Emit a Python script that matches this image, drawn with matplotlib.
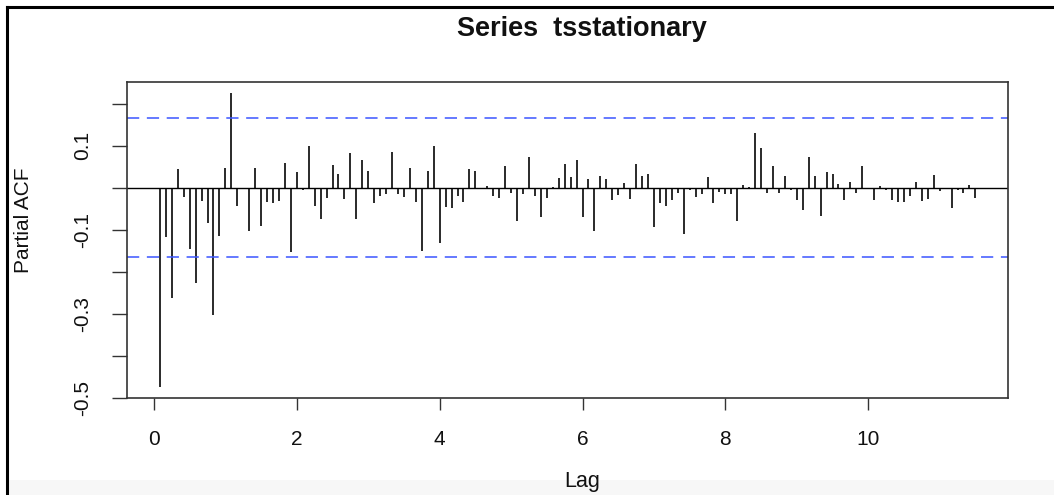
import numpy as np
import matplotlib
matplotlib.use("Agg")
import matplotlib.pyplot as plt
from matplotlib.lines import Line2D
from matplotlib.patches import Rectangle

# ---- data ----
freq = 12
pacf_values = [
    -0.472, -0.117, -0.263, 0.044, -0.021, -0.146, -0.227, -0.031, -0.083, -0.302,
    -0.115, 0.047, 0.224, -0.044, -0.002, -0.103, 0.048, -0.090, -0.035, -0.037,
    -0.031, 0.058, -0.152, 0.037, -0.006, 0.098, -0.043, -0.075, -0.024, 0.054,
    0.032, -0.027, 0.082, -0.075, 0.065, 0.040, -0.036, -0.019, -0.014, 0.084,
    -0.014, -0.022, 0.048, -0.035, -0.150, 0.040, 0.099, -0.131, -0.045, -0.048,
    -0.019, -0.033, 0.044, 0.040, -0.002, 0.005, -0.019, -0.024, 0.052, -0.013,
    -0.079, -0.016, 0.072, -0.019, -0.070, -0.024, 0.002, 0.022, 0.057, 0.025,
    0.066, -0.070, 0.021, -0.103, 0.027, 0.021, -0.028, -0.017, 0.011, -0.027,
    0.056, 0.029, 0.032, -0.094, -0.037, -0.044, -0.030, -0.013, -0.111, -0.006,
    -0.021, -0.016, 0.025, -0.037, -0.011, -0.016, -0.014, -0.079, 0.006, 0.001,
    0.131, 0.095, -0.013, 0.052, -0.012, 0.029, -0.006, -0.028, -0.052, 0.073,
    0.027, -0.067, 0.037, 0.033, 0.008, -0.028, 0.013, -0.013, 0.052, -0.003,
    -0.028, 0.004, -0.006, -0.028, -0.034, -0.034, -0.020, 0.013, -0.032, -0.026,
    0.031, -0.008, -0.002, -0.049, -0.006, -0.013, 0.006, -0.024,
]
lags = [(i + 1) / freq for i in range(len(pacf_values))]
ci_bound = 0.165
title_text = "Series  tsstationary"
xlabel_text = "Lag"
ylabel_text = "Partial ACF"
xticks = [0, 2, 4, 6, 8, 10]
yticks = [0.2, 0.1, 0.0, -0.1, -0.2, -0.3, -0.4, -0.5]
ytick_labels = ["", "0.1", "", "-0.1", "", "-0.3", "", "-0.5"]

FONT = ["Liberation Sans", "DejaVu Sans"]
plt.rcParams["font.family"] = FONT

W, H = 1054, 495
fig = plt.figure(figsize=(W / 100, H / 100), dpi=100)

# light grey strip at the very bottom of the screenshot
fig.add_artist(Rectangle((8 / W, 0), 1, 15 / H, transform=fig.transFigure,
                         facecolor="#f7f7f7", edgecolor="none", zorder=-5))

# axes placement in pixels
L, R, T, B = 127.3, 1008.0, 81.7, 398.3
ax = fig.add_axes([L / W, 1 - B / H, (R - L) / W, (B - T) / H])

ax.vlines(lags, 0, pacf_values, colors="#2a2a2a", linewidth=1.4)
ax.axhline(0, color="black", linewidth=1.0)
ax.axhline(ci_bound, color="#3a55ff", linewidth=1.1, linestyle=(0, (8, 5)))
ax.axhline(-ci_bound, color="#3a55ff", linewidth=1.1, linestyle=(0, (8, 5)))

xmin, xmax = min(lags), max(lags)
dx = (xmax - xmin) * 0.04
ax.set_xlim(xmin - dx, xmax + dx)
ymin, ymax = min(pacf_values), max(pacf_values)
dy = (ymax - ymin) * 0.04
ax.set_ylim(ymin - dy, ymax + dy)

ax.set_xticks(xticks)
ax.set_xticklabels([str(t) for t in xticks])
ax.set_yticks(yticks)
ax.set_yticklabels(ytick_labels, rotation=90, va="center")
ax.tick_params(axis="both", direction="out", width=1.0, color="#333333",
               labelsize=15, labelcolor="#111111")
ax.tick_params(axis="x", length=8.5, pad=14)
ax.tick_params(axis="y", length=11, pad=14)
for s in ax.spines.values():
    s.set_color("#333333")
    s.set_linewidth(1.2)

fig.text(582 / W, 1 - 29 / H, title_text, ha="center", va="center",
         fontsize=19.5, fontweight="bold", color="#111111")
fig.text(582 / W, 1 - 482 / H, xlabel_text, ha="center", va="center",
         fontsize=15.5, color="#111111")
fig.text(24 / W, 1 - 220 / H, ylabel_text, ha="center", va="center",
         rotation=90, fontsize=15, color="#111111")

# outer frame (left and top edges)
fig.add_artist(Line2D([6.5 / W, 6.5 / W], [0, 1 - 6.5 / H], transform=fig.transFigure,
                      color="black", linewidth=2.2))
fig.add_artist(Line2D([6.5 / W, 1], [1 - 6.5 / H, 1 - 6.5 / H], transform=fig.transFigure,
                      color="black", linewidth=2.2))

fig.savefig("out.png", dpi=100)
